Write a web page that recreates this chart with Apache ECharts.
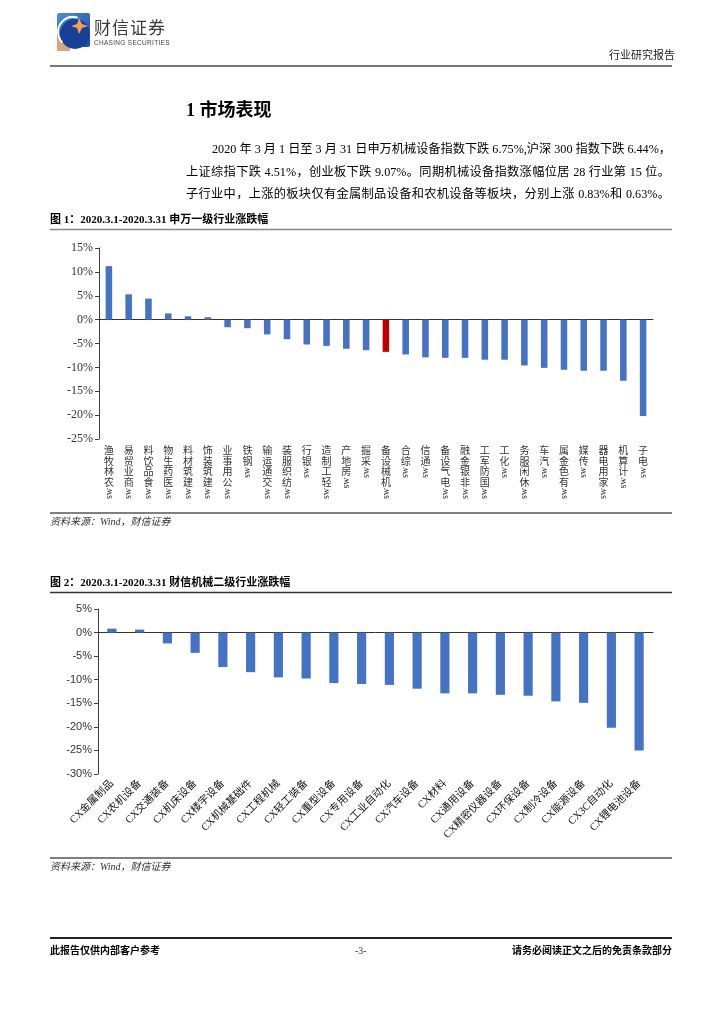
<!DOCTYPE html>
<html><head><meta charset="utf-8">
<script src="https://cdn.jsdelivr.net/npm/echarts@6/dist/echarts.min.js"></script>
<style>
body{margin:0;width:724px;height:1024px;position:relative;background:#fff;overflow:hidden;font-family:"Liberation Serif","Noto Sans CJK SC",serif;color:#000}
#chart{position:absolute;left:0;top:0;width:724px;height:1024px}
.t{position:absolute;white-space:nowrap;line-height:1}
.j{text-align:justify;text-align-last:justify;white-space:nowrap}
</style></head><body>
<div id="chart"></div>
<div class="t" style="left:94px;top:18px;font-family:'Noto Sans CJK SC';font-size:17px;color:#3a3a3a;letter-spacing:1px">财信证券</div>
<div class="t" style="left:94px;top:40px;font-family:'Liberation Sans';font-size:6.5px;color:#444;letter-spacing:0.3px">CHASING SECURITIES</div>
<div class="t" style="left:609px;top:50px;font-size:11px;color:#222">行业研究报告</div>
<div class="t" style="left:186px;top:101px;font-size:18px;font-weight:bold">1 市场表现</div>
<div class="t j" style="left:212px;top:143px;width:456px;font-size:12.2px">2020 年 3 月 1 日至 3 月 31 日申万机械设备指数下跌 6.75%,沪深 300 指数下跌 6.44%，</div>
<div class="t j" style="left:186px;top:166px;width:484px;font-size:12.2px">上证综指下跌 4.51%，创业板下跌 9.07%。同期机械设备指数涨幅位居 28 行业第 15 位。</div>
<div class="t j" style="left:186px;top:188px;width:484px;font-size:12.2px">子行业中，上涨的板块仅有金属制品设备和农机设备等板块，分别上涨 0.83%和 0.63%。</div>
<div class="t" style="left:50px;top:214px;font-size:11px;font-weight:bold">图 1：2020.3.1-2020.3.31 申万一级行业涨跌幅</div>
<div class="t" style="left:50px;top:517px;font-size:10px;font-style:italic;color:#333">资料来源：Wind，财信证券</div>
<div class="t" style="left:50px;top:577px;font-size:11px;font-weight:bold">图 2：2020.3.1-2020.3.31 财信机械二级行业涨跌幅</div>
<div class="t" style="left:50px;top:862px;font-size:10px;font-style:italic;color:#333">资料来源：Wind，财信证券</div>
<div class="t" style="left:50px;top:946px;font-size:10px;font-weight:bold">此报告仅供内部客户参考</div>
<div class="t" style="left:355px;top:946px;font-size:10px;color:#333">-3-</div>
<div class="t" style="left:500px;top:946px;width:172px;text-align:right;font-size:10px;font-weight:bold">请务必阅读正文之后的免责条款部分</div>
<script>
// ---- Data ----
const categories1 = ['sw农林牧渔','sw商业贸易','sw食品饮料','sw医药生物','sw建筑材料','sw建筑装饰','sw公用事业','sw钢铁','sw交通运输','sw纺织服装','sw银行','sw轻工制造','sw房地产','sw采掘','sw机械设备','sw综合','sw通信','sw电气设备','sw非银金融','sw国防军工','sw化工','sw休闲服务','sw汽车','sw有色金属','sw传媒','sw家用电器','sw计算机','sw电子'];
const values1 = [11.2, 5.3, 4.4, 1.3, 0.7, 0.5, -1.6, -1.8, -3.1, -4.1, -5.2, -5.5, -6.1, -6.4, -6.75, -7.3, -7.9, -8.0, -8.0, -8.4, -8.4, -9.6, -10.1, -10.5, -10.7, -10.7, -12.8, -20.2];
const highlight1 = 'sw机械设备';
const yMin1 = -25, yMax1 = 15, yStep1 = 5;

const categories2 = ['CX金属制品','CX农机设备','CX交通装备','CX机床设备','CX楼宇设备','CX机械基础件','CX工程机械','CX轻工装备','CX重型设备','CX专用设备','CX工业自动化','CX汽车设备','CX材料','CX通用设备','CX精密仪器设备','CX环保设备','CX制冷设备','CX能源设备','CX3C自动化','CX锂电池设备'];
const values2 = [0.83, 0.63, -2.3, -4.3, -7.3, -8.4, -9.5, -9.75, -10.7, -10.9, -11.1, -11.9, -12.9, -12.9, -13.2, -13.4, -14.6, -14.9, -20.2, -25.0];
const yMin2 = -30, yMax2 = 5, yStep2 = 5;

// ---- Styles ----
const BLUE = '#4472C4', RED = '#C00000';
const serif = 'Liberation Serif, Noto Sans CJK SC, serif';
const cjk = 'Noto Sans CJK SC, sans-serif';
const CH = 10.5; // stacked char height

const g1 = {left: 99, top: 248, width: 554, height: 191};
const g2 = {left: 98, top: 609, width: 555, height: 165};

const swRich = {};
for (let n = 1; n <= 8; n++) {
  swRich['p' + n] = {fontFamily: serif, fontSize: 10, color: '#333', padding: [0, n * CH + 1, 0, 0]};
}

const chart = echarts.init(document.getElementById('chart'), null, {renderer: 'canvas'});
const hiddenY = (gi) => ({gridIndex: gi, type: 'value', min: 0, max: 1, show: false});
const labelX = (gi, cats, label) => ({
  gridIndex: gi, type: 'category', data: cats,
  axisLine: {show: false, onZero: false}, axisTick: {show: false},
  axisLabel: Object.assign({interval: 0}, label)
});

const option = {
  animation: false,
  grid: [
    Object.assign({outerBoundsMode: 'none'}, g1),
    Object.assign({outerBoundsMode: 'none'}, g1),
    Object.assign({outerBoundsMode: 'none'}, g1),
    Object.assign({outerBoundsMode: 'none'}, g2),
    Object.assign({outerBoundsMode: 'none'}, g2)
  ],
  xAxis: [
    {gridIndex: 0, type: 'category', data: categories1,
     axisLine: {lineStyle: {color: '#333', width: 1}},
     axisTick: {length: 3, lineStyle: {color: '#333'}},
     axisLabel: {show: false}},
    labelX(1, categories1, {
      fontFamily: cjk, fontSize: 10, lineHeight: CH, color: '#333', margin: 6,
      formatter: v => v.replace('sw', '').split('').reverse().join('\n')
    }),
    labelX(2, categories1, {
      rotate: 90, margin: 6, rich: swRich,
      formatter: v => '{p' + v.replace('sw', '').length + '|sw}'
    }),
    {gridIndex: 3, type: 'category', data: categories2,
     axisLine: {lineStyle: {color: '#333', width: 1}},
     axisTick: {length: 3, lineStyle: {color: '#333'}},
     axisLabel: {show: false}},
    labelX(4, categories2, {
      rotate: 45, margin: 8, fontFamily: serif, fontSize: 10.5, color: '#111'
    })
  ],
  yAxis: [
    {gridIndex: 0, type: 'value', min: yMin1, max: yMax1, interval: yStep1,
     axisLine: {show: true, lineStyle: {color: '#404040'}},
     axisTick: {show: true, length: 4, lineStyle: {color: '#404040'}},
     splitLine: {show: false},
     axisLabel: {formatter: '{value}%', fontFamily: serif, fontSize: 12, color: '#333', margin: 6}},
    hiddenY(1), hiddenY(2),
    {gridIndex: 3, type: 'value', min: yMin2, max: yMax2, interval: yStep2,
     axisLine: {show: true, lineStyle: {color: '#404040'}},
     axisTick: {show: true, length: 4, lineStyle: {color: '#404040'}},
     splitLine: {show: false},
     axisLabel: {formatter: '{value}%', fontFamily: 'Liberation Sans, sans-serif', fontSize: 11, color: '#333', margin: 6}},
    hiddenY(4)
  ],
  series: [
    {type: 'bar', xAxisIndex: 0, yAxisIndex: 0, barWidth: '33%',
     data: values1.map((v, i) => ({value: v, itemStyle: {color: categories1[i] === highlight1 ? RED : BLUE}}))},
    {type: 'bar', xAxisIndex: 3, yAxisIndex: 3, barWidth: '33%',
     itemStyle: {color: BLUE}, data: values2}
  ],
  graphic: [
    // logo
    {type: 'rect', shape: {x: 57, y: 13, width: 33, height: 34, r: [2, 2, 2, 2]},
     style: {fill: new echarts.graphic.LinearGradient(0, 0, 1, 1, [{offset: 0, color: '#4a8fe0'}, {offset: 1, color: '#1c4aa0'}])}},
    {type: 'rect', shape: {x: 57, y: 37, width: 13, height: 14}, style: {fill: '#d8a67c'}},
    {type: 'circle', shape: {cx: 75, cy: 34, r: 15}, style: {fill: '#17409a'}},
    {type: 'arc', shape: {cx: 73, cy: 32, r: 15, startAngle: Math.PI * 0.75, endAngle: Math.PI * 1.6},
     style: {stroke: '#fff', lineWidth: 2, fill: null}},
    {type: 'polygon', shape: {points: [[79, 18], [82, 24], [88, 26], [82, 28], [79, 34], [77, 28], [71, 26], [77, 24]]},
     style: {fill: '#f0a050'}},
    // rules
    {type: 'line', shape: {x1: 50, y1: 66, x2: 672, y2: 66}, style: {stroke: '#777', lineWidth: 2}},
    {type: 'line', shape: {x1: 50, y1: 229.5, x2: 672, y2: 229.5}, style: {stroke: '#888', lineWidth: 1.5}},
    {type: 'line', shape: {x1: 50, y1: 513, x2: 672, y2: 513}, style: {stroke: '#555', lineWidth: 1.5}},
    {type: 'line', shape: {x1: 50, y1: 592.5, x2: 672, y2: 592.5}, style: {stroke: '#333', lineWidth: 1.5}},
    {type: 'line', shape: {x1: 50, y1: 858, x2: 672, y2: 858}, style: {stroke: '#555', lineWidth: 1.5}},
    {type: 'line', shape: {x1: 50, y1: 938, x2: 672, y2: 938}, style: {stroke: '#222', lineWidth: 2}}
  ]
};
chart.setOption(option);
</script>
</body></html>
